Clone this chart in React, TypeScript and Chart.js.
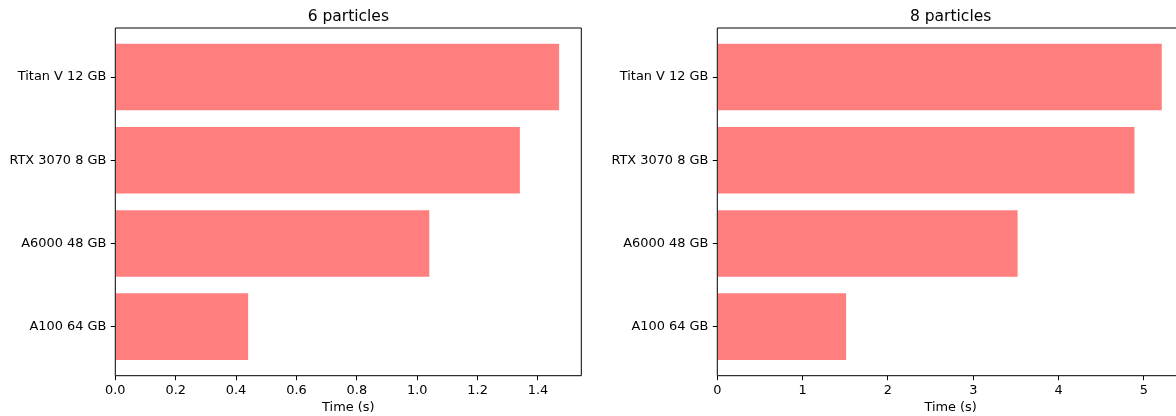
import React, { useEffect, useRef } from "react";
import { Chart, registerables } from "chart.js";

Chart.register(...registerables);

// GPU names, bottom to top
const gpus = ["A100 64 GB", "A6000 48 GB", "RTX 3070 8 GB", "Titan V 12 GB"];
// Run time in seconds
const times6 = [0.44, 1.04, 1.34, 1.47];
const times8 = [1.51, 3.52, 4.89, 5.21];
// x tick values
const ticks6 = [0, 0.2, 0.4, 0.6, 0.8, 1.0, 1.2, 1.4];
const ticks8 = [0, 1, 2, 3, 4, 5];

const FONT = "'DejaVu Sans', sans-serif";
const BAR = "rgba(255, 0, 0, 0.5)";

type PanelProps = {
  title: string;
  values: number[];
  ticks: number[];
  digits: number;
  left: number;
  width: number;
  axisWidth: number;
  padRight: number;
  rightSpine: boolean;
};

function Panel(props: PanelProps) {
  const ref = useRef<HTMLCanvasElement>(null);

  useEffect(() => {
    const { title, values, ticks, digits, axisWidth, padRight, rightSpine } = props;
    const xMax = Math.max(...values) * 1.05;
    const yMin = -0.4 - 0.19;
    const yMax = 3.4 + 0.19;

    const frame = {
      id: "frame",
      afterDraw(chart: any) {
        const { ctx, chartArea: a } = chart;
        ctx.save();
        ctx.strokeStyle = "#000";
        ctx.lineWidth = 1;
        ctx.beginPath();
        ctx.moveTo(a.left, a.bottom);
        ctx.lineTo(a.left, a.top);
        ctx.lineTo(a.right, a.top);
        if (rightSpine) ctx.lineTo(a.right, a.bottom);
        ctx.moveTo(a.left, a.bottom);
        ctx.lineTo(a.right, a.bottom);
        ctx.stroke();

        ctx.fillStyle = "#000";
        ctx.textAlign = "center";
        ctx.textBaseline = "alphabetic";
        ctx.font = `15.5px ${FONT}`;
        ctx.fillText(title, (a.left + a.right) / 2, 20.5);
        ctx.textBaseline = "middle";
        ctx.font = `12.9px ${FONT}`;
        ctx.fillText("Time (s)", (a.left + a.right) / 2, 408);
        ctx.restore();
      },
    };

    const chart = new Chart(ref.current!, {
      type: "bar",
      data: {
        datasets: [
          {
            data: values.map((v, i) => ({ x: v, y: i })),
            backgroundColor: BAR,
            borderWidth: 0,
            categoryPercentage: 1,
            barPercentage: 0.8,
          },
        ],
      },
      options: {
        indexAxis: "y",
        animation: false,
        responsive: false,
        layout: { padding: { top: 28, right: padRight, left: 0, bottom: 0 } },
        plugins: {
          legend: { display: false },
          title: { display: false },
          tooltip: { enabled: false },
        },
        scales: {
          x: {
            type: "linear",
            min: 0,
            max: xMax,
            offset: false,
            afterBuildTicks: (s: any) => {
              s.ticks = ticks.map((v) => ({ value: v }));
            },
            afterFit: (s: any) => {
              s.height = 40.3;
            },
            ticks: {
              callback: (v: any) => Number(v).toFixed(digits),
              color: "#000",
              font: { family: FONT, size: 12.9 },
              padding: 3,
              maxRotation: 0,
              autoSkip: false,
            },
            grid: {
              offset: false,
              drawOnChartArea: false,
              drawTicks: true,
              tickLength: 4.5,
              tickColor: "#000",
              tickWidth: 1,
            },
            border: { display: false },
          },
          y: {
            type: "linear",
            min: yMin,
            max: yMax,
            offset: false,
            afterBuildTicks: (s: any) => {
              s.ticks = gpus.map((_, i) => ({ value: i }));
            },
            afterFit: (s: any) => {
              s.width = axisWidth;
            },
            ticks: {
              callback: (v: any) => gpus[Number(v)],
              color: "#000",
              font: { family: FONT, size: 12.9 },
              padding: 4.5,
              autoSkip: false,
            },
            grid: {
              offset: false,
              drawOnChartArea: false,
              drawTicks: true,
              tickLength: 4.5,
              tickColor: "#000",
              tickWidth: 1,
            },
            border: { display: false },
          },
        },
      },
      plugins: [frame],
    } as any);

    return () => chart.destroy();
  }, []);

  return (
    <canvas
      ref={ref}
      width={props.width}
      height={416}
      style={{ position: "absolute", left: props.left, top: 0, width: props.width, height: 416 }}
    />
  );
}

export default function App() {
  return (
    <div
      style={{
        position: "fixed",
        left: 0,
        top: 0,
        width: 1176,
        height: 416,
        overflow: "hidden",
        background: "#fff",
      }}
    >
      <Panel
        title="6 particles"
        values={times6}
        ticks={ticks6}
        digits={1}
        left={0}
        width={590}
        axisWidth={115.3}
        padRight={8.7}
        rightSpine={true}
      />
      <Panel
        title="8 particles"
        values={times8}
        ticks={ticks8}
        digits={0}
        left={590}
        width={594}
        axisWidth={127.3}
        padRight={0}
        rightSpine={true}
      />
    </div>
  );
}
